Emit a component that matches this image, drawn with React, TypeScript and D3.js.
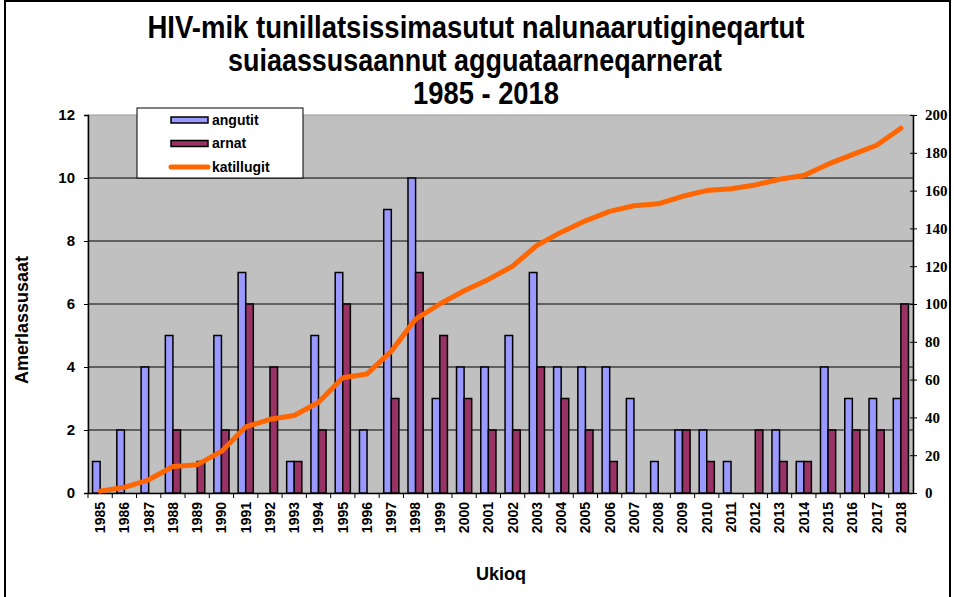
import * as d3 from 'd3';
import { useEffect, useRef } from 'react';

const years = ['1985','1986','1987','1988','1989','1990','1991','1992','1993','1994','1995','1996','1997','1998','1999','2000','2001','2002','2003','2004','2005','2006','2007','2008','2009','2010','2011','2012','2013','2014','2015','2016','2017','2018'];
const angutit = [1,2,4,5,0,5,7,0,1,5,7,2,9,10,3,4,4,5,7,4,4,4,3,1,2,2,1,0,2,1,4,3,3,3];
const arnat = [0,0,0,2,1,2,6,4,1,2,6,0,3,7,5,3,2,2,4,3,2,1,0,0,2,1,0,2,1,1,2,2,2,6];
const katillugit = [1,3,7,14,15,22,35,39,41,48,61,63,75,92,100,107,113,120,131,138,144,149,152,153,157,160,161,163,166,168,174,179,184,193];
const leftTicks = [0,2,4,6,8,10,12];
const rightTicks = [0,20,40,60,80,100,120,140,160,180,200];

export default function App() {
  const ref = useRef<SVGSVGElement>(null);

  useEffect(() => {
    const svg = d3.select(ref.current);
    svg.selectAll('*').remove();

    const left = 88, right = 913, top = 115, bottom = 493;

    // outer frame
    svg.append('rect').attr('x', 5).attr('y', 1).attr('width', 945).attr('height', 620)
      .attr('fill', 'white').attr('stroke', 'black').attr('stroke-width', 2);

    const x = d3.scaleBand().domain(years).range([left, right]);
    const inner = d3.scaleBand().domain(['a', 'b']).range([0, x.bandwidth()]).paddingOuter(0.6).paddingInner(0);
    const y = d3.scaleLinear().domain([0, 12]).range([bottom, top]);
    const y2 = d3.scaleLinear().domain([0, 200]).range([bottom, top]);

    svg.append('rect').attr('x', left).attr('y', top).attr('width', right - left).attr('height', bottom - top)
      .attr('fill', '#c0c0c0').attr('stroke', '#999').attr('stroke-width', 1);

    svg.append('g').selectAll('line').data(leftTicks.slice(1, -1)).join('line')
      .attr('x1', left).attr('x2', right).attr('y1', d => y(d)).attr('y2', d => y(d))
      .attr('stroke', 'black').attr('stroke-width', 1);

    const font = 'Arial, "Liberation Sans", sans-serif';

    // left axis
    const gl = svg.append('g').attr('transform', `translate(${left},0)`)
      .call(d3.axisLeft(y).tickValues(leftTicks).tickSize(4).tickPadding(9));
    gl.select('.domain').attr('stroke', 'black').attr('stroke-width', 1.5);
    gl.selectAll('text').attr('font-family', font).attr('font-weight', 'bold').attr('font-size', 15).attr('fill', 'black');

    // right axis
    const gr = svg.append('g').attr('transform', `translate(${right},0)`)
      .call(d3.axisRight(y2).tickValues(rightTicks).tickSizeInner(4).tickSizeOuter(0).tickPadding(8));
    gr.selectAll('.tick line').attr('x1', -3).attr('x2', 4);
    gr.select('.domain').attr('stroke', 'black').attr('stroke-width', 1.5);
    gr.selectAll('text').attr('font-family', '"Liberation Serif", "Times New Roman", serif')
      .attr('font-weight', 'bold').attr('font-size', 15).attr('fill', 'black');

    // bottom axis
    const gb = svg.append('g').attr('transform', `translate(0,${bottom})`)
      .call(d3.axisBottom(x).tickSize(0).tickPadding(0));
    gb.select('.domain').attr('stroke', 'black').attr('stroke-width', 1.5);
    gb.selectAll('.tick').append('line').attr('x1', -x.bandwidth() / 2).attr('x2', -x.bandwidth() / 2)
      .attr('y1', 0).attr('y2', 5).attr('stroke', 'black');
    gb.selectAll('text')
      .attr('transform', 'rotate(-90)')
      .attr('text-anchor', 'end')
      .attr('dy', '0.35em')
      .attr('x', -9).attr('y', 0)
      .attr('font-family', font).attr('font-weight', 'bold').attr('font-size', 14).attr('fill', 'black');

    // bars
    const gBars = svg.append('g');
    gBars.selectAll('.m').data(years).join('rect').attr('class', 'm')
      .attr('x', (d) => (x(d) as number) + (inner('a') as number))
      .attr('y', (d, i) => y(angutit[i]))
      .attr('width', inner.bandwidth())
      .attr('height', (d, i) => bottom - y(angutit[i]))
      .attr('fill', '#9999ff').attr('stroke', 'black').attr('stroke-width', 1.5)
      .attr('display', (d, i) => angutit[i] === 0 ? 'none' : null);
    gBars.selectAll('.f').data(years).join('rect').attr('class', 'f')
      .attr('x', (d) => (x(d) as number) + (inner('b') as number))
      .attr('y', (d, i) => y(arnat[i]))
      .attr('width', inner.bandwidth())
      .attr('height', (d, i) => bottom - y(arnat[i]))
      .attr('fill', '#993366').attr('stroke', 'black').attr('stroke-width', 1.5)
      .attr('display', (d, i) => arnat[i] === 0 ? 'none' : null);

    // cumulative line
    const line = d3.line<number>()
      .x((d, i) => (x(years[i]) as number) + x.bandwidth() / 2)
      .y(d => y2(d));
    svg.append('path').datum(katillugit).attr('d', line)
      .attr('fill', 'none').attr('stroke', '#ff6600').attr('stroke-width', 5)
      .attr('stroke-linejoin', 'round').attr('stroke-linecap', 'round');

    // legend
    const lg = svg.append('g');
    lg.append('rect').attr('x', 137).attr('y', 108).attr('width', 166).attr('height', 70)
      .attr('fill', 'white').attr('stroke', 'black').attr('stroke-width', 1);
    const items = [
      { name: 'angutit', color: '#9999ff', kind: 'bar' },
      { name: 'arnat', color: '#993366', kind: 'bar' },
      { name: 'katillugit', color: '#ff6600', kind: 'line' },
    ];
    items.forEach((it, i) => {
      const cy = 120 + i * 23.5;
      if (it.kind === 'bar') {
        lg.append('rect').attr('x', 171).attr('y', cy - 3).attr('width', 37).attr('height', 6)
          .attr('fill', it.color).attr('stroke', 'black').attr('stroke-width', 1.5);
      } else {
        lg.append('line').attr('x1', 171).attr('x2', 208).attr('y1', cy).attr('y2', cy)
          .attr('stroke', it.color).attr('stroke-width', 5).attr('stroke-linecap', 'round');
      }
      lg.append('text').attr('x', 212).attr('y', cy).attr('dy', '0.35em')
        .attr('font-family', font).attr('font-weight', 'bold').attr('font-size', 14)
        .text(it.name);
    });

    // titles (condensed look via textLength)
    const titles = [
      { t: 'HIV-mik tunillatsissimasutut nalunaarutigineqartut', cx: 476, w: 657 },
      { t: 'suiaassusaannut agguataarneqarnerat', cx: 475, w: 494 },
      { t: '1985 - 2018', cx: 486, w: 146 },
    ];
    titles.forEach((d, i) => {
      svg.append('text').attr('x', d.cx).attr('y', 38 + i * 33).attr('text-anchor', 'middle')
        .attr('font-family', font).attr('font-weight', 'bold').attr('font-size', 32)
        .attr('textLength', d.w).attr('lengthAdjust', 'spacingAndGlyphs')
        .text(d.t);
    });

    svg.append('text').attr('transform', `translate(28,${320}) rotate(-90)`)
      .attr('text-anchor', 'middle').attr('font-family', font).attr('font-weight', 'bold').attr('font-size', 18)
      .text('Amerlassusaat');
    svg.append('text').attr('x', 501).attr('y', 580).attr('text-anchor', 'middle')
      .attr('font-family', font).attr('font-weight', 'bold').attr('font-size', 18)
      .text('Ukioq');
  }, []);

  return (
    <svg ref={ref} width={954} height={597} style={{ position: 'absolute', left: 0, top: 0, display: 'block' }}></svg>
  );
}
